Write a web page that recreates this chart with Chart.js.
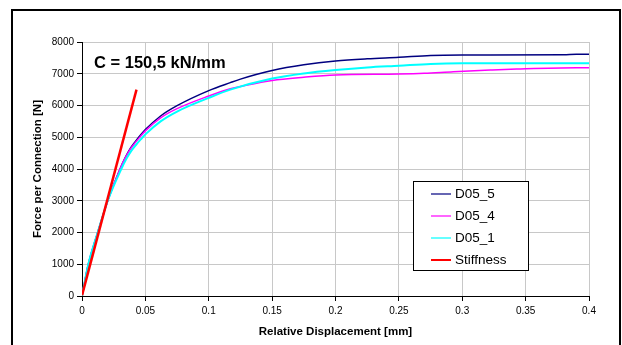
<!DOCTYPE html>
<html>
<head>
<meta charset="utf-8">
<script src="https://cdn.jsdelivr.net/npm/chart.js@4/dist/chart.umd.min.js"></script>
<style>
  html, body { margin: 0; padding: 0; background: #fff; }
  #wrap { position: relative; width: 622px; height: 345px; overflow: hidden; font-family: "Liberation Sans", Arial, sans-serif; }
  #c { position: absolute; left: 0; top: 0; }
  #frame { position: absolute; left: 11px; top: 9px; width: 606px; height: 400px; border: 2px solid #000; pointer-events: none; }
  #legend { position: absolute; left: 413px; top: 181px; width: 114px; height: 88px; border: 1px solid #000; background: #fff; }
  .item { position: absolute; left: 0; height: 16px; font-size: 13.5px; color: #000; line-height: 16px; }
  .item .ln { position: absolute; left: 17px; top: 7px; width: 20px; height: 2px; }
  .item .tx { position: absolute; left: 41px; top: 0; white-space: nowrap; }
  #note { position: absolute; left: 94px; top: 53px; font-size: 16.5px; font-weight: bold; color: #000; white-space: nowrap; }
</style>
</head>
<body>
<div id="wrap">
  <canvas id="c" width="622" height="345"></canvas>
  <div id="frame"></div>
  <div id="note">C = 150,5 kN/mm</div>
  <div id="legend"></div>
</div>
<script>
// ---- data ----
const seriesLabels = ["D05_5", "D05_4", "D05_1", "Stiffness"];

const dispD05_5  = [0, 0.005, 0.0124, 0.0203, 0.030, 0.034, 0.038, 0.042, 0.046, 0.05, 0.062, 0.075, 0.1, 0.117, 0.125, 0.15, 0.175, 0.2, 0.225, 0.25, 0.275, 0.3, 0.38, 0.39, 0.4];
const forceD05_5 = [0, 1000, 2000, 3000, 4000, 4350, 4640, 4860, 5060, 5240, 5670, 5995, 6470, 6720, 6830, 7100, 7280, 7400, 7470, 7518, 7575, 7588, 7595, 7612, 7612];

const dispD05_4  = [0, 0.005, 0.0124, 0.0203, 0.030, 0.034, 0.038, 0.042, 0.046, 0.05, 0.062, 0.075, 0.1, 0.117, 0.125, 0.15, 0.175, 0.2, 0.25, 0.27, 0.293, 0.322, 0.343, 0.39, 0.4];
const forceD05_4 = [0, 1000, 2000, 3000, 4000, 4340, 4620, 4830, 5020, 5200, 5610, 5900, 6300, 6530, 6600, 6790, 6890, 6961, 6990, 7013, 7066, 7118, 7150, 7192, 7192];

const dispD05_1  = [0, 0.005, 0.0124, 0.0203, 0.031, 0.035, 0.039, 0.043, 0.047, 0.05, 0.062, 0.075, 0.1, 0.117, 0.15, 0.175, 0.2, 0.225, 0.25, 0.275, 0.3, 0.4];
const forceD05_1 = [0, 1000, 2000, 3000, 4000, 4320, 4580, 4780, 4960, 5090, 5500, 5810, 6240, 6500, 6850, 7010, 7118, 7200, 7254, 7310, 7328, 7328];

const dispStiffness  = [0, 0.043];
const forceStiffness = [20, 6500];

const xTicks = [0, 0.05, 0.1, 0.15, 0.2, 0.25, 0.3, 0.35, 0.4];
const yTicks = [0, 1000, 2000, 3000, 4000, 5000, 6000, 7000, 8000];

const xTitle = "Relative Displacement [mm]";
const yTitle = "Force per Connection [N]";

// ---- build ----
function pts(xs, ys) { return xs.map((x, i) => ({ x: x, y: ys[i] })); }

const colors = ["#000080", "#ff00ff", "#00ffff", "#ff0000"];
const widths = [1.5, 1.5, 2, 2.5];
const orders = [3, 2, 1, 0];
const allData = [
  pts(dispD05_5, forceD05_5),
  pts(dispD05_4, forceD05_4),
  pts(dispD05_1, forceD05_1),
  pts(dispStiffness, forceStiffness)
];

const datasets = seriesLabels.map((lab, i) => ({
  label: lab,
  data: allData[i],
  borderColor: colors[i],
  backgroundColor: colors[i],
  borderWidth: widths[i],
  pointRadius: 0,
  fill: false,
  order: orders[i],
  cubicInterpolationMode: i < 3 ? 'monotone' : 'default',
  tension: 0
}));

const fmt = v => String(parseFloat(Number(v).toFixed(4)));

new Chart(document.getElementById('c'), {
  type: 'line',
  data: { datasets: datasets },
  options: {
    responsive: false,
    animation: false,
    devicePixelRatio: 1,
    layout: { padding: { left: 0, right: 33, top: 42, bottom: 0 } },
    plugins: { legend: { display: false }, tooltip: { enabled: false } },
    scales: {
      x: {
        type: 'linear',
        min: 0, max: 0.4,
        afterBuildTicks: s => { s.ticks = xTicks.map(v => ({ value: v })); },
        afterFit: s => { s.height = 49; },
        ticks: { callback: v => fmt(v), color: '#000', font: { family: "'Liberation Sans', Arial, sans-serif", size: 10 }, padding: 4, maxRotation: 0, autoSkip: false },
        grid: { color: '#c8c8c8', lineWidth: 1, tickColor: '#000', tickLength: 5, drawTicks: true },
        border: { color: '#000', width: 1 },
        title: { display: true, text: xTitle, color: '#000', font: { family: "'Liberation Sans', Arial, sans-serif", size: 11.5, weight: 'bold' }, padding: { top: 0, bottom: 6 } }
      },
      y: {
        type: 'linear',
        min: 0, max: 8000,
        afterBuildTicks: s => { s.ticks = yTicks.map(v => ({ value: v })); },
        afterFit: s => { s.width = 82; },
        ticks: { callback: v => fmt(v), color: '#000', font: { family: "'Liberation Sans', Arial, sans-serif", size: 10 }, padding: 3, autoSkip: false },
        grid: { color: '#c8c8c8', lineWidth: 1, tickColor: '#000', tickLength: 5, drawTicks: true },
        border: { color: '#000', width: 1 },
        title: { display: true, text: yTitle, color: '#000', font: { family: "'Liberation Sans', Arial, sans-serif", size: 11.5, weight: 'bold' }, padding: { top: 31, bottom: 0 } }
      }
    }
  }
});

// ---- HTML legend from series labels ----
const lg = document.getElementById('legend');
const rowTops = [4, 26, 48, 70];
seriesLabels.forEach((lab, i) => {
  const d = document.createElement('div');
  d.className = 'item';
  d.style.top = rowTops[i] + 'px';
  const ln = document.createElement('div');
  ln.className = 'ln';
  ln.style.background = colors[i];
  ln.style.opacity = i < 3 ? '0.6' : '1';
  const tx = document.createElement('div');
  tx.className = 'tx';
  tx.textContent = lab;
  d.appendChild(ln); d.appendChild(tx);
  lg.appendChild(d);
});
</script>
</body>
</html>
